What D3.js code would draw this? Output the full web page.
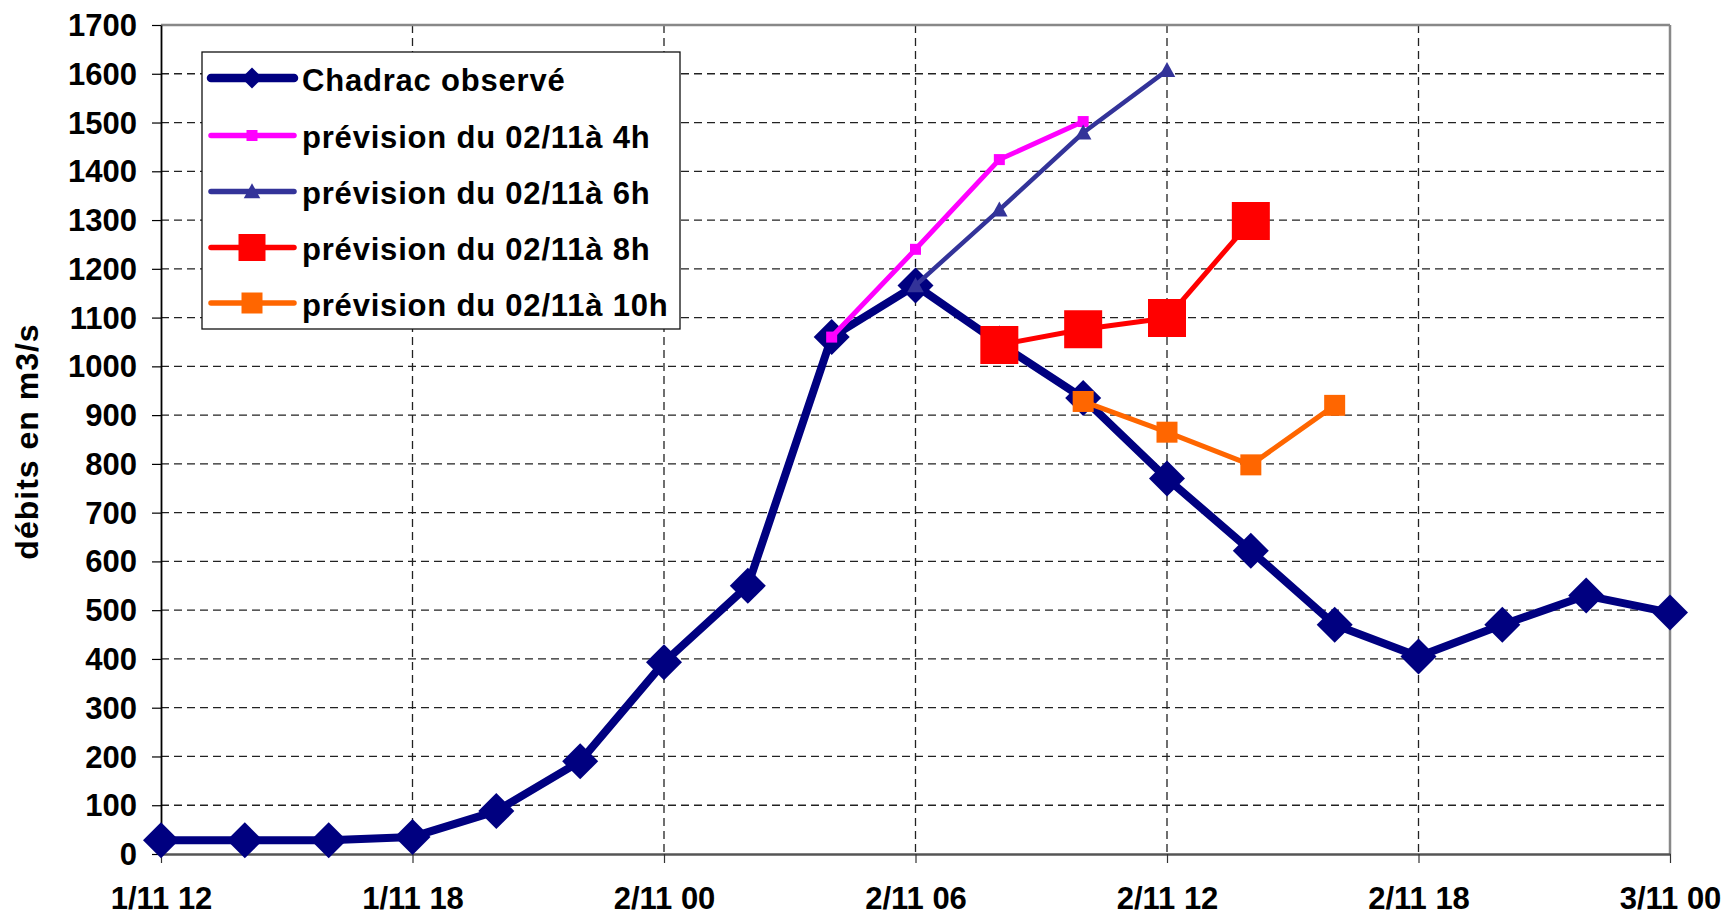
<!DOCTYPE html>
<html>
<head>
<meta charset="utf-8">
<script src="https://cdn.jsdelivr.net/npm/d3@7"></script>
<style>
  html, body { margin: 0; padding: 0; background: #fff; }
  svg { display: block; }
  text { font-family: "Liberation Sans", Arial, sans-serif; font-weight: bold; fill: #000; }
</style>
</head>
<body>
<svg id="chart" width="1729" height="916"></svg>
<script>
// ---------- DATA ----------
const obsTimes = ["2008-11-01T12:00","2008-11-01T14:00","2008-11-01T16:00","2008-11-01T18:00","2008-11-01T20:00","2008-11-01T22:00",
  "2008-11-02T00:00","2008-11-02T02:00","2008-11-02T04:00","2008-11-02T06:00","2008-11-02T08:00","2008-11-02T10:00",
  "2008-11-02T12:00","2008-11-02T14:00","2008-11-02T16:00","2008-11-02T18:00","2008-11-02T20:00","2008-11-02T22:00","2008-11-03T00:00"];
const obsValues = [28, 28, 28, 35, 88, 190, 393, 550, 1060, 1166, 1047, 935, 770, 622, 470, 405, 470, 530, 495];

const prev4Times = ["2008-11-02T04:00","2008-11-02T06:00","2008-11-02T08:00","2008-11-02T10:00"];
const prev4Values = [1060, 1240, 1424, 1502];

const prev6Times = ["2008-11-02T06:00","2008-11-02T08:00","2008-11-02T10:00","2008-11-02T12:00"];
const prev6Values = [1166, 1321, 1479, 1607];

const prev8Times = ["2008-11-02T08:00","2008-11-02T10:00","2008-11-02T12:00","2008-11-02T14:00"];
const prev8Values = [1044, 1076, 1099, 1298];

const prev10Times = ["2008-11-02T10:00","2008-11-02T12:00","2008-11-02T14:00","2008-11-02T16:00"];
const prev10Values = [928, 865, 798, 920];

const seriesNames = ["Chadrac observé", "prévision du 02/11à 4h", "prévision du 02/11à 6h", "prévision du 02/11à 8h", "prévision du 02/11à 10h"];
const yTickValues = [0,100,200,300,400,500,600,700,800,900,1000,1100,1200,1300,1400,1500,1600,1700];
const xTickTimes = ["2008-11-01T12:00","2008-11-01T18:00","2008-11-02T00:00","2008-11-02T06:00","2008-11-02T12:00","2008-11-02T18:00","2008-11-03T00:00"];
const yTitle = "débits en m3/s";

// ---------- SETUP ----------
const parse = s => new Date(s);
const svg = d3.select("#chart");
const L = 161, R = 1670, T = 25, B = 854;

const x = d3.scaleTime().domain([parse(xTickTimes[0]), parse(xTickTimes[xTickTimes.length-1])]).range([L, R]);
const y = d3.scaleLinear().domain([0, 1700]).range([B, T]);

// gridlines
const grid = svg.append("g");
grid.selectAll("line.h").data(yTickValues.filter(v => v > 0 && v < 1700)).join("line")
  .attr("x1", L).attr("x2", R).attr("y1", d => y(d)).attr("y2", d => y(d))
  .attr("stroke", "#222").attr("stroke-width", 1.3).attr("stroke-dasharray", "8,5");
grid.selectAll("line.v").data(xTickTimes.slice(1, -1).map(parse)).join("line")
  .attr("y1", T).attr("y2", B).attr("x1", d => x(d)).attr("x2", d => x(d))
  .attr("stroke", "#222").attr("stroke-width", 1.3).attr("stroke-dasharray", "8,5");

// plot border (top, right)
svg.append("line").attr("x1", L).attr("x2", R).attr("y1", T).attr("y2", T).attr("stroke", "#888").attr("stroke-width", 2.5);
svg.append("line").attr("x1", R).attr("x2", R).attr("y1", T).attr("y2", B).attr("stroke", "#888").attr("stroke-width", 2.5);

// axes
const fmt = d3.timeFormat("%-d/%m %H");
const xAxis = d3.axisBottom(x).tickValues(xTickTimes.map(parse)).tickFormat(fmt).tickSize(9).tickSizeOuter(0).tickPadding(24);
const gx = svg.append("g").attr("transform", `translate(0,${B})`).call(xAxis);
gx.select(".domain").attr("stroke", "#555").attr("stroke-width", 2.5);
gx.selectAll(".tick line").attr("stroke", "#333").attr("stroke-width", 1.2);
gx.selectAll("text").attr("font-size", 31).attr("font-family", "Liberation Sans, Arial, sans-serif").attr("font-weight", "bold").attr("fill", "#000");

const yAxis = d3.axisLeft(y).tickValues(yTickValues).tickFormat(d3.format("d")).tickSize(9).tickSizeOuter(0).tickPadding(15);
const gy = svg.append("g").attr("transform", `translate(${L},0)`).call(yAxis);
gy.select(".domain").attr("stroke", "#000").attr("stroke-width", 1.8);
gy.selectAll(".tick line").attr("stroke", "#000").attr("stroke-width", 1.2);
gy.selectAll("text").attr("font-size", 31).attr("font-family", "Liberation Sans, Arial, sans-serif").attr("font-weight", "bold").attr("fill", "#000").attr("dy", "0.34em");

// y title
svg.append("text").attr("transform", `translate(38,${(T + B) / 2 + 2}) rotate(-90)`)
  .attr("text-anchor", "middle").attr("font-size", 32).attr("letter-spacing", "1px").text(yTitle);

// ---------- SERIES ----------
const diamond = r => `M0,${-r}L${r},0L0,${r}L${-r},0Z`;
const square = s => `M${-s/2},${-s/2}h${s}v${s}h${-s}Z`;
const triangle = s => `M0,${-s*0.55}L${s*0.55},${s*0.45}L${-s*0.55},${s*0.45}Z`;

const series = [
  { name: seriesNames[0], t: obsTimes, v: obsValues, color: "#000080", width: 8, marker: diamond(18), legMarker: diamond(10.5) },
  { name: seriesNames[1], t: prev4Times, v: prev4Values, color: "#FF00FF", width: 5, marker: square(11), legMarker: square(11) },
  { name: seriesNames[2], t: prev6Times, v: prev6Values, color: "#333399", width: 4.5, marker: triangle(15), legMarker: triangle(15) },
  { name: seriesNames[3], t: prev8Times, v: prev8Values, color: "#FF0000", width: 5, marker: square(38), legMarker: square(27) },
  { name: seriesNames[4], t: prev10Times, v: prev10Values, color: "#FF6600", width: 5, marker: square(21), legMarker: square(21) }
];

const line = d3.line().x(d => x(d[0])).y(d => y(d[1]));
series.forEach(s => {
  const pts = s.t.map((t, i) => [parse(t), s.v[i]]);
  const g = svg.append("g");
  g.append("path").attr("d", line(pts)).attr("fill", "none").attr("stroke", s.color)
    .attr("stroke-width", s.width).attr("stroke-linejoin", "round").attr("stroke-linecap", "round");
  g.selectAll("path.m").data(pts).join("path").attr("class", "m")
    .attr("d", s.marker).attr("transform", d => `translate(${x(d[0])},${y(d[1])})`)
    .attr("fill", s.color);
});

// ---------- LEGEND ----------
const lg = svg.append("g");
lg.append("rect").attr("x", 202).attr("y", 52).attr("width", 478).attr("height", 277)
  .attr("fill", "#fff").attr("stroke", "#111").attr("stroke-width", 1.3);
const rowY = [78, 135.5, 191.5, 247.5, 303];
series.forEach((s, i) => {
  const ry = rowY[i];
  lg.append("line").attr("x1", 211).attr("x2", 294).attr("y1", ry).attr("y2", ry)
    .attr("stroke", s.color).attr("stroke-width", i === 0 ? 8.5 : 5.5).attr("stroke-linecap", "round");
  lg.append("path").attr("d", s.legMarker).attr("transform", `translate(252,${ry})`).attr("fill", s.color);
  lg.append("text").attr("x", 302).attr("y", ry + 12.5).attr("font-size", 31).attr("letter-spacing", "0.8px").text(s.name);
});
</script>
</body>
</html>
